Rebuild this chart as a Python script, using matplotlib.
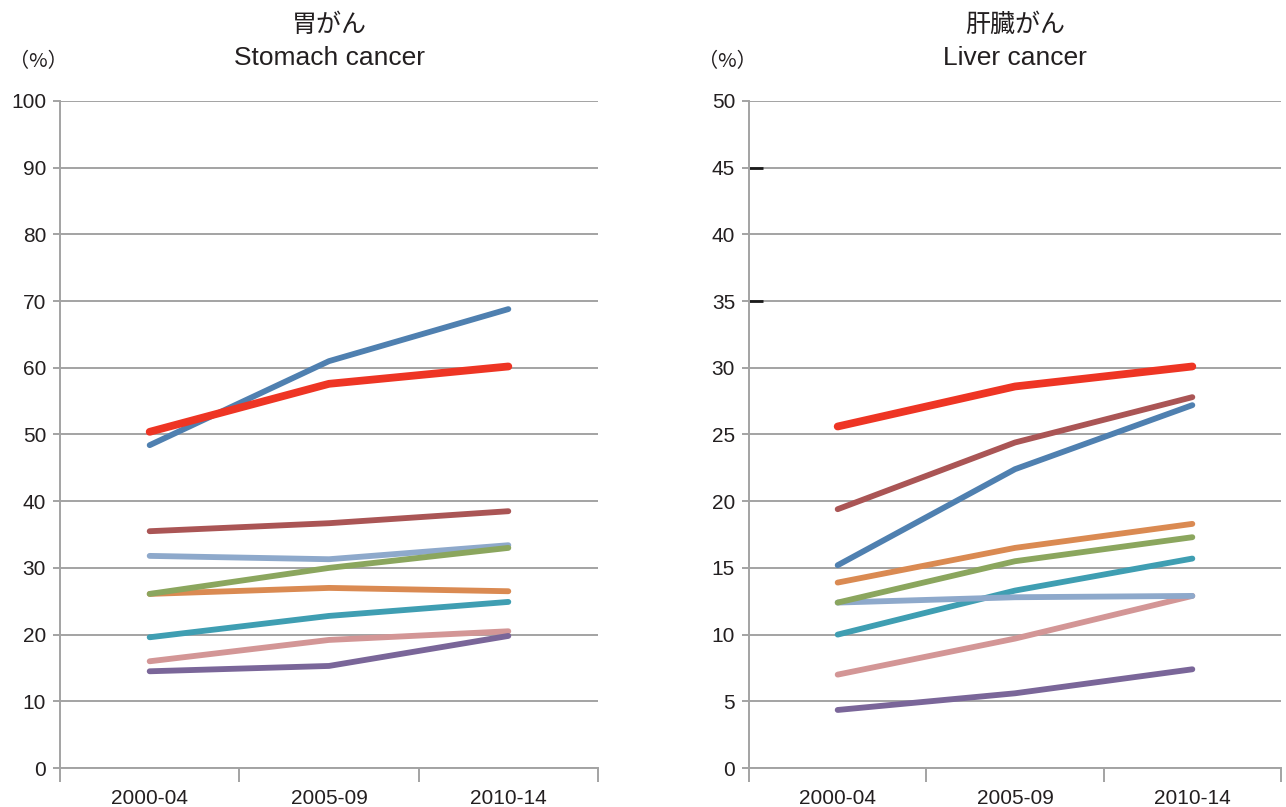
import matplotlib
matplotlib.use("Agg")
import matplotlib.pyplot as plt
from matplotlib.ticker import FixedLocator

plt.rcParams['font.family'] = ['Liberation Sans', 'Noto Sans CJK JP', 'DejaVu Sans']

periods = ["2000-04", "2005-09", "2010-14"]

# Stomach cancer survival (%)
stomach = {
    "teal":      [19.6, 22.8, 24.9],
    "pink":      [16.0, 19.2, 20.5],
    "purple":    [14.5, 15.3, 19.8],
    "orange":    [26.1, 27.0, 26.5],
    "lightblue": [31.8, 31.3, 33.4],
    "green":     [26.1, 30.0, 33.0],
    "darkred":   [35.5, 36.7, 38.5],
    "blue":      [48.4, 61.0, 68.8],
    "red":       [50.4, 57.6, 60.2],
}

# Liver cancer survival (%)
liver = {
    "teal":      [10.0, 13.3, 15.7],
    "pink":      [7.0, 9.7, 12.9],
    "purple":    [4.35, 5.6, 7.4],
    "orange":    [13.9, 16.5, 18.3],
    "lightblue": [12.4, 12.8, 12.9],
    "green":     [12.4, 15.5, 17.3],
    "darkred":   [19.4, 24.4, 27.8],
    "blue":      [15.2, 22.4, 27.2],
    "red":       [25.6, 28.6, 30.1],
}

colors = {
    "teal": "#3F9EB2",
    "pink": "#D39696",
    "purple": "#7A6699",
    "orange": "#DA8A52",
    "lightblue": "#8EA9CB",
    "green": "#8BA65E",
    "darkred": "#AA5555",
    "blue": "#4F80B0",
    "red": "#EE3524",
}

grid_c = "#A3A3A3"
text_c = "#231F20"

W, H = 1286, 807
fig = plt.figure(figsize=(W / 100, H / 100), dpi=100)

def make_axes(x0, x1, y0, y1):
    return fig.add_axes([x0 / W, 1 - y1 / H, (x1 - x0) / W, (y1 - y0) / H])

def style(ax, data, ymax, step, jp, en):
    x = list(range(len(periods)))
    for key, vals in data.items():
        lw = 5.6 if key == "red" else 4.2
        ax.plot(x, vals, color=colors[key], lw=lw, solid_capstyle="round",
                solid_joinstyle="round", zorder=3)
    ax.set_xlim(-0.5, len(periods) - 0.5)
    ax.set_ylim(0, ymax)
    ax.set_yticks(range(0, ymax + 1, step))
    ax.set_xticks(x)
    ax.set_xticklabels(periods)
    ax.xaxis.set_minor_locator(FixedLocator([i - 0.5 for i in range(len(periods) + 1)]))
    ax.grid(axis="y", color=grid_c, lw=1.4, zorder=1)
    ax.set_axisbelow(True)
    for s in ("top", "right"):
        ax.spines[s].set_visible(False)
    for s in ("left", "bottom"):
        ax.spines[s].set_color(grid_c)
        ax.spines[s].set_linewidth(1.4)
    ax.tick_params(axis="y", which="major", length=5, width=1.4, color=grid_c,
                   labelsize=15, labelcolor=text_c, pad=5)
    ax.tick_params(axis="x", which="major", length=0, labelsize=15,
                   labelcolor=text_c, pad=15)
    ax.tick_params(axis="x", which="minor", length=10, width=1.4, color=grid_c)
    ax.text(0.5, 1.064, en, transform=ax.transAxes, ha="center", va="center",
            fontsize=19, color=text_c)
    ax.text(0.5, 1.114, jp, transform=ax.transAxes, ha="center", va="center",
            fontsize=18, color=text_c, family=["Noto Sans CJK JP"])
    ax.text(-0.04, 1.059, "（%）", transform=ax.transAxes, ha="center", va="center",
            fontsize=14.5, color=text_c, family=["Noto Sans CJK JP"])

ax1 = make_axes(60, 598, 101, 768)
style(ax1, stomach, 100, 10, "胃がん", "Stomach cancer")

ax2 = make_axes(749, 1281, 101, 768)
style(ax2, liver, 50, 5, "肝臓がん", "Liver cancer")
ax2.yaxis.remove_overlapping_locs = False
ax2.yaxis.set_minor_locator(FixedLocator([35, 45]))
ax2.tick_params(axis="y", which="minor", direction="in", length=10, width=2,
                color="#1A1A1A")

fig.savefig("out.png", dpi=100)
